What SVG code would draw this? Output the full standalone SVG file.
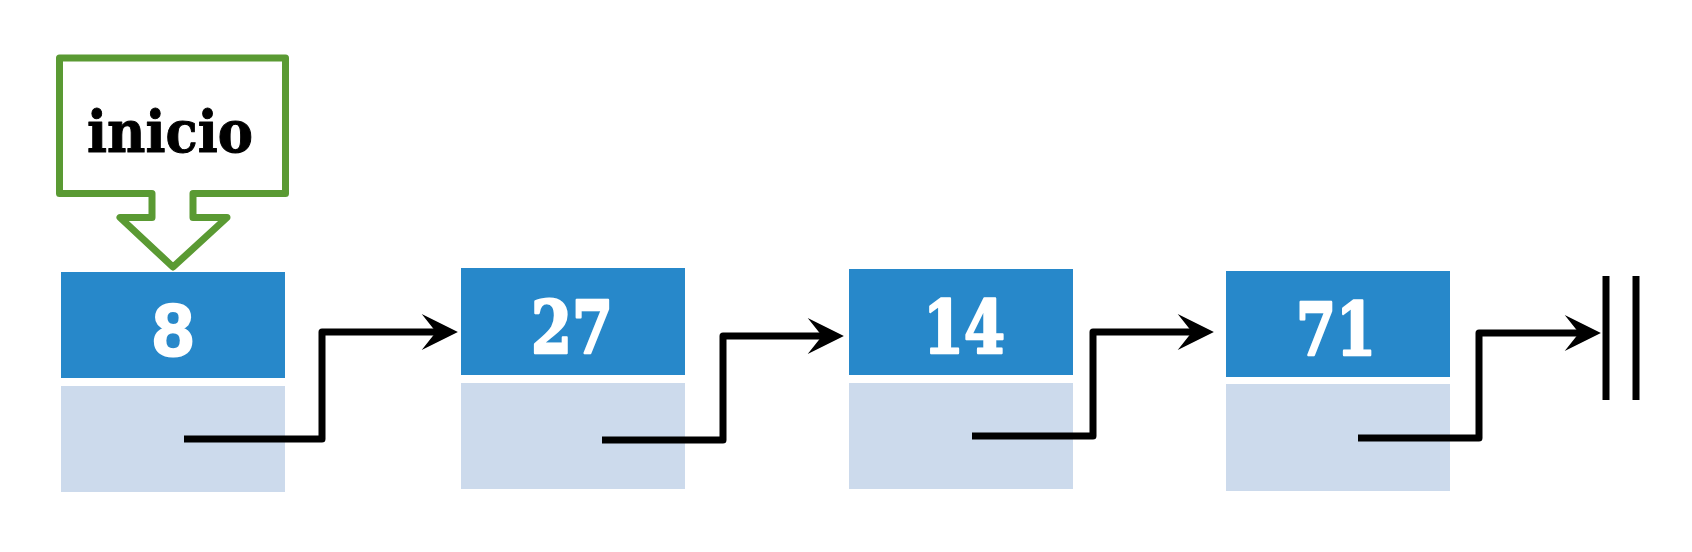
<svg xmlns="http://www.w3.org/2000/svg" width="1692" height="552" viewBox="0 0 1692 552">
<style>
.val{fill:#2788CA}
.ptr{fill:#CCDAEC}
.num{fill:#ffffff;stroke:#ffffff;stroke-width:2.5;stroke-linejoin:round;font-family:"DejaVu Serif",serif;font-weight:bold;font-size:72px;text-anchor:middle}
.conn{fill:none;stroke:#000;stroke-width:7;stroke-linejoin:round}
</style>
<defs>
<marker id="ah" markerUnits="userSpaceOnUse" markerWidth="40" markerHeight="40" viewBox="-2 -21 42 42" refX="15" refY="0" orient="auto">
<path d="M0,-19 L38,0 L0,19 L15,0 Z" fill="#000"/>
</marker>
</defs>
<rect width="1692" height="552" fill="#fff"/>
<g id="inicio">
<path d="M59.5,58 H285.5 V193.5 H193 V217.5 H227 L173,267 L120,217.5 H152 V193.5 H59.5 Z" fill="#fff" stroke="#5A9A33" stroke-width="7" stroke-linejoin="round"/>
<text x="170" y="152" font-family="DejaVu Serif,serif" font-weight="bold" font-size="58" text-anchor="middle" textLength="166" lengthAdjust="spacingAndGlyphs" fill="#000" stroke="#000" stroke-width="1" stroke-linejoin="round">inicio</text>
</g>
<g id="node1">
<rect class="val" x="61" y="272" width="224" height="106"/>
<rect class="ptr" x="61" y="386" width="224" height="106"/>
<text x="173" y="356" fill="#fff" stroke="#fff" stroke-width="2" stroke-linejoin="round" font-family="Liberation Sans,Arial,sans-serif" font-weight="bold" font-size="74" text-anchor="middle">8</text>
</g>
<g id="node2">
<rect class="val" x="461" y="268" width="224" height="107"/>
<rect class="ptr" x="461" y="383" width="224" height="106"/>
<text class="num" x="572" y="353" textLength="82" lengthAdjust="spacingAndGlyphs">27</text>
</g>
<g id="node3">
<rect class="val" x="849" y="269" width="224" height="106"/>
<rect class="ptr" x="849" y="383" width="224" height="106"/>
<text class="num" x="964" y="353" textLength="82" lengthAdjust="spacingAndGlyphs">14</text>
</g>
<g id="node4">
<rect class="val" x="1226" y="271" width="224" height="106"/>
<rect class="ptr" x="1226" y="384" width="224" height="107"/>
<text class="num" x="1336" y="355" textLength="80" lengthAdjust="spacingAndGlyphs">71</text>
</g>
<g id="null">
<line x1="1606" y1="276" x2="1606" y2="400" stroke="#000" stroke-width="7"/>
<line x1="1636" y1="276" x2="1636" y2="400" stroke="#000" stroke-width="7"/>
</g>
<g id="connectors">
<path class="conn" d="M184,439 H322 V332 H436" marker-end="url(#ah)"/>
<path class="conn" d="M602,440 H723 V336 H822" marker-end="url(#ah)"/>
<path class="conn" d="M972,436 H1093 V332 H1192" marker-end="url(#ah)"/>
<path class="conn" d="M1358,438 H1479 V333 H1579" marker-end="url(#ah)"/>
</g>
</svg>
